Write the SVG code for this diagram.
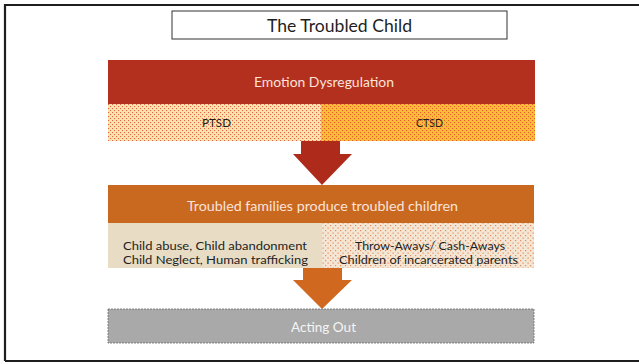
<svg xmlns="http://www.w3.org/2000/svg" width="639" height="364" viewBox="0 0 639 364">
<style>
text{font-family:Lato,"Liberation Sans",Arial,sans-serif;text-anchor:middle;dominant-baseline:central}
.light{fill:#fbe3da}
.dark{fill:#1f1f1f}
</style>
<defs>
<pattern id="dotRed" width="4" height="4" patternUnits="userSpaceOnUse">
<rect x="0" y="0" width="1.1" height="1.1" fill="#e23a26" fill-opacity="0.75"/>
<rect x="2" y="2" width="1.1" height="1.1" fill="#e23a26" fill-opacity="0.75"/>
</pattern>
<pattern id="dotOrange" width="5" height="5" patternUnits="userSpaceOnUse">
<rect x="0" y="0" width="1.2" height="1.2" fill="#e58a5a"/>
<rect x="2.5" y="2.5" width="1.2" height="1.2" fill="#e58a5a"/>
</pattern>
</defs>
<rect x="0" y="0" width="639" height="364" fill="#ffffff"/>
<path d="M5,361 V5 H639 M5,361 H639" fill="none" stroke="#1e1e1e" stroke-width="2.2"/>

<g id="title">
<rect x="172" y="11" width="335" height="28" fill="#fff" stroke="#333" stroke-width="1"/>
<text x="339.5" y="25.5" font-size="17" class="dark" textLength="145" lengthAdjust="spacingAndGlyphs">The Troubled Child</text>
</g>

<g id="connectors">
<path d="M301,140 H340 V154 H352 L322,185 L293,154 H301 Z" fill="#ae2b1c"/>
<path d="M303,268 H342 V280 H352 L322,309 L293,280 H303 Z" fill="#d0691f"/>
</g>

<g id="emotion">
<rect x="108" y="60" width="427" height="44" fill="#b3301f"/>
<text x="324" y="82" font-size="13.5" class="light" textLength="140" lengthAdjust="spacingAndGlyphs">Emotion Dysregulation</text>
</g>

<g id="ptsd">
<rect x="108" y="104" width="213" height="37" fill="#fae4ae"/>
<rect x="108" y="104" width="213" height="37" fill="url(#dotRed)"/>
<text x="216.5" y="122" font-size="11.5" class="dark" textLength="29" lengthAdjust="spacingAndGlyphs">PTSD</text>
</g>
<g id="ctsd">
<rect x="321" y="104" width="214" height="37" fill="#fabd3a"/>
<rect x="321" y="104" width="214" height="37" fill="url(#dotRed)"/>
<text x="429.5" y="122" font-size="11.5" class="dark" textLength="27" lengthAdjust="spacingAndGlyphs">CTSD</text>
</g>

<g id="families">
<rect x="108" y="185" width="426" height="38" fill="#c9681f"/>
<text x="322.5" y="206" font-size="13" class="light" textLength="271" lengthAdjust="spacingAndGlyphs">Troubled families produce troubled children</text>
</g>

<g id="abuse">
<rect x="108" y="223" width="214" height="45" fill="#e8dcc4"/>
<text x="215" y="245.5" font-size="11" class="dark" textLength="184" lengthAdjust="spacingAndGlyphs">Child abuse, Child abandonment</text>
<text x="215.5" y="259.5" font-size="11" class="dark" textLength="185" lengthAdjust="spacingAndGlyphs">Child Neglect, Human trafficking</text>
</g>
<g id="throwaways">
<rect x="322" y="223" width="212" height="45" fill="#f3e6d4"/>
<rect x="322" y="223" width="212" height="45" fill="url(#dotOrange)"/>
<text x="430" y="245.5" font-size="11" class="dark" textLength="150" lengthAdjust="spacingAndGlyphs">Throw-Aways/ Cash-Aways</text>
<text x="428.5" y="259.5" font-size="11" class="dark" textLength="179" lengthAdjust="spacingAndGlyphs">Children of incarcerated parents</text>
</g>

<g id="acting">
<rect x="108" y="309" width="426" height="34" fill="#a9a9a9" stroke="#6a6a6a" stroke-width="0.8" stroke-dasharray="2,1"/>
<text x="323.5" y="327" font-size="12.5" fill="#f4f4f4" textLength="65" lengthAdjust="spacingAndGlyphs">Acting Out</text>
</g>
</svg>
